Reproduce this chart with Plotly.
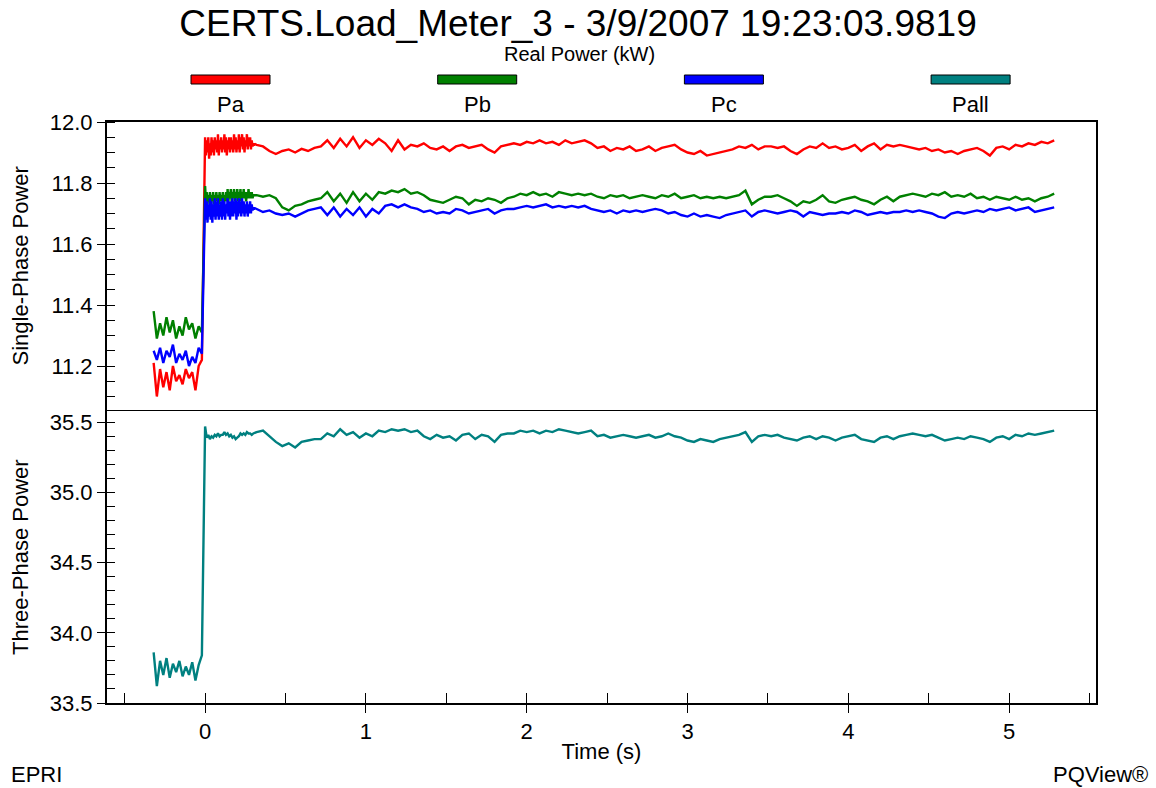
import numpy as np
import plotly.graph_objects as go

# ---------------- data ----------------
T_PRE = np.linspace(-0.32, -0.02, 16)
T_STEP = [0.0]
T_RIPPLE = np.linspace(0.005, 0.30, 60)      # single-phase dense ripple section
T_RIPPLE_3 = np.linspace(0.01, 0.30, 30)     # three-phase section
T_MAIN = np.linspace(0.32, 5.28, 125)

pa_pre = [11.21, 11.10, 11.19, 11.13, 11.18, 11.12, 11.20, 11.15, 11.17, 11.14, 11.19, 11.16, 11.18, 11.12, 11.20, 11.22]
pb_pre = [11.38, 11.29, 11.34, 11.30, 11.36, 11.31, 11.35, 11.29, 11.33, 11.30, 11.36, 11.32, 11.34, 11.29, 11.33, 11.31]
pc_pre = [11.25, 11.22, 11.26, 11.21, 11.25, 11.23, 11.27, 11.21, 11.24, 11.22, 11.25, 11.20, 11.23, 11.21, 11.26, 11.24]
pall_pre = [33.86, 33.62, 33.80, 33.70, 33.82, 33.68, 33.78, 33.72, 33.80, 33.69, 33.76, 33.70, 33.79, 33.66, 33.77, 33.84]

pa_step = [11.95]
pb_step = [11.79]
pc_step = [11.75]
pall_step = [35.47]

pa_ripple = [11.89, 11.94, 11.90, 11.95, 11.88, 11.93, 11.89, 11.95, 11.90, 11.94,
             11.89, 11.95, 11.91, 11.94, 11.90, 11.96, 11.89, 11.94, 11.91, 11.95,
             11.90, 11.94, 11.91, 11.96, 11.90, 11.95, 11.89, 11.94, 11.91, 11.95,
             11.90, 11.95, 11.91, 11.94, 11.90, 11.96, 11.91, 11.95, 11.90, 11.94,
             11.91, 11.96, 11.90, 11.95, 11.92, 11.96, 11.91, 11.95, 11.90, 11.94,
             11.92, 11.96, 11.91, 11.95, 11.92, 11.95, 11.91, 11.94, 11.92, 11.93]
pb_ripple = [11.74, 11.77, 11.73, 11.76, 11.74, 11.77, 11.73, 11.76, 11.74, 11.77,
             11.73, 11.76, 11.74, 11.77, 11.74, 11.76, 11.73, 11.77, 11.74, 11.76,
             11.74, 11.77, 11.73, 11.76, 11.74, 11.77, 11.74, 11.78, 11.74, 11.77,
             11.75, 11.78, 11.74, 11.77, 11.75, 11.78, 11.74, 11.77, 11.75, 11.78,
             11.74, 11.77, 11.75, 11.78, 11.74, 11.77, 11.75, 11.78, 11.75, 11.77,
             11.74, 11.77, 11.75, 11.78, 11.75, 11.77, 11.75, 11.77, 11.75, 11.76]
pc_ripple = [11.68, 11.74, 11.67, 11.73, 11.69, 11.75, 11.68, 11.74, 11.67, 11.73,
             11.69, 11.75, 11.68, 11.74, 11.69, 11.75, 11.68, 11.73, 11.69, 11.74,
             11.68, 11.75, 11.69, 11.74, 11.68, 11.73, 11.70, 11.75, 11.69, 11.74,
             11.68, 11.74, 11.69, 11.75, 11.69, 11.74, 11.70, 11.75, 11.68, 11.74,
             11.69, 11.75, 11.70, 11.74, 11.69, 11.75, 11.70, 11.74, 11.69, 11.73,
             11.70, 11.74, 11.69, 11.73, 11.70, 11.74, 11.70, 11.73, 11.71, 11.72]
pall_ripple = [35.39, 35.41, 35.38, 35.40, 35.39, 35.41, 35.40, 35.42, 35.40, 35.41,
               35.41, 35.43, 35.41, 35.42, 35.40, 35.41, 35.39, 35.40, 35.38, 35.39,
               35.40, 35.42, 35.41, 35.42, 35.41, 35.43, 35.42, 35.42, 35.41, 35.42]

pa_main = [
    11.925, 11.92, 11.905, 11.895, 11.905, 11.91, 11.90, 11.912, 11.905, 11.915,
    11.92, 11.94, 11.915, 11.945, 11.92, 11.95, 11.915, 11.94, 11.925, 11.945,
    11.93, 11.905, 11.94, 11.91, 11.925, 11.92, 11.93, 11.915, 11.91, 11.92,
    11.905, 11.92, 11.925, 11.915, 11.92, 11.925, 11.91, 11.90, 11.92, 11.925,
    11.93, 11.925, 11.935, 11.93, 11.94, 11.93, 11.935, 11.925, 11.94, 11.93,
    11.935, 11.94, 11.93, 11.915, 11.92, 11.905, 11.915, 11.91, 11.92, 11.905,
    11.91, 11.92, 11.905, 11.915, 11.92, 11.925, 11.91, 11.90, 11.895, 11.905,
    11.89, 11.895, 11.90, 11.905, 11.91, 11.92, 11.915, 11.925, 11.91, 11.92,
    11.92, 11.915, 11.92, 11.905, 11.895, 11.91, 11.92, 11.915, 11.93, 11.915,
    11.92, 11.91, 11.915, 11.925, 11.905, 11.92, 11.93, 11.91, 11.925, 11.92,
    11.925, 11.92, 11.915, 11.91, 11.915, 11.905, 11.91, 11.90, 11.905, 11.895,
    11.905, 11.91, 11.915, 11.905, 11.89, 11.915, 11.92, 11.91, 11.925, 11.92,
    11.93, 11.925, 11.935, 11.93, 11.94]
pb_main = [
    11.76, 11.755, 11.76, 11.75, 11.72, 11.71, 11.725, 11.73, 11.74, 11.745,
    11.75, 11.77, 11.74, 11.765, 11.735, 11.77, 11.74, 11.765, 11.745, 11.77,
    11.765, 11.775, 11.77, 11.78, 11.765, 11.77, 11.76, 11.745, 11.74, 11.735,
    11.745, 11.755, 11.75, 11.73, 11.745, 11.74, 11.75, 11.745, 11.735, 11.75,
    11.755, 11.765, 11.76, 11.77, 11.76, 11.765, 11.755, 11.77, 11.765, 11.76,
    11.765, 11.76, 11.765, 11.755, 11.75, 11.76, 11.755, 11.76, 11.75, 11.755,
    11.76, 11.755, 11.75, 11.76, 11.755, 11.765, 11.75, 11.755, 11.76, 11.75,
    11.755, 11.75, 11.755, 11.75, 11.755, 11.76, 11.775, 11.73, 11.745, 11.755,
    11.755, 11.76, 11.75, 11.74, 11.725, 11.74, 11.735, 11.745, 11.76, 11.74,
    11.735, 11.745, 11.75, 11.755, 11.745, 11.74, 11.73, 11.745, 11.755, 11.74,
    11.755, 11.76, 11.765, 11.76, 11.755, 11.765, 11.76, 11.77, 11.755, 11.76,
    11.755, 11.765, 11.75, 11.755, 11.745, 11.755, 11.75, 11.745, 11.755, 11.745,
    11.75, 11.74, 11.75, 11.755, 11.765]
pc_main = [
    11.715, 11.705, 11.71, 11.70, 11.695, 11.70, 11.69, 11.70, 11.71, 11.715,
    11.72, 11.695, 11.72, 11.69, 11.715, 11.695, 11.72, 11.69, 11.715, 11.70,
    11.725, 11.73, 11.72, 11.73, 11.72, 11.715, 11.705, 11.71, 11.70, 11.705,
    11.70, 11.715, 11.71, 11.70, 11.705, 11.71, 11.715, 11.70, 11.71, 11.715,
    11.715, 11.72, 11.725, 11.72, 11.725, 11.73, 11.72, 11.725, 11.72, 11.725,
    11.72, 11.725, 11.715, 11.71, 11.705, 11.71, 11.70, 11.71, 11.705, 11.71,
    11.705, 11.71, 11.715, 11.71, 11.70, 11.705, 11.695, 11.69, 11.70, 11.69,
    11.695, 11.69, 11.685, 11.695, 11.70, 11.705, 11.71, 11.69, 11.705, 11.71,
    11.705, 11.70, 11.705, 11.71, 11.705, 11.69, 11.705, 11.70, 11.695, 11.70,
    11.70, 11.705, 11.70, 11.71, 11.705, 11.695, 11.70, 11.705, 11.70, 11.705,
    11.705, 11.71, 11.705, 11.71, 11.705, 11.70, 11.69, 11.685, 11.70, 11.705,
    11.70, 11.705, 11.71, 11.705, 11.715, 11.71, 11.715, 11.72, 11.71, 11.715,
    11.72, 11.705, 11.71, 11.715, 11.72]
pall_main = [
    35.43, 35.44, 35.40, 35.36, 35.33, 35.35, 35.32, 35.36, 35.37, 35.38,
    35.38, 35.42, 35.40, 35.45, 35.41, 35.43, 35.39, 35.42, 35.40, 35.44,
    35.43, 35.45, 35.44, 35.45, 35.43, 35.44, 35.40, 35.38, 35.41, 35.39,
    35.40, 35.37, 35.41, 35.42, 35.38, 35.41, 35.40, 35.36, 35.41, 35.42,
    35.42, 35.44, 35.43, 35.44, 35.42, 35.44, 35.43, 35.45, 35.44, 35.43,
    35.42, 35.43, 35.44, 35.40, 35.41, 35.39, 35.40, 35.41, 35.40, 35.39,
    35.40, 35.41, 35.39, 35.40, 35.42, 35.40, 35.39, 35.37, 35.36, 35.38,
    35.37, 35.36, 35.38, 35.39, 35.40, 35.41, 35.43, 35.36, 35.40, 35.41,
    35.40, 35.41, 35.39, 35.38, 35.37, 35.39, 35.40, 35.38, 35.40, 35.39,
    35.37, 35.39, 35.40, 35.41, 35.38, 35.37, 35.36, 35.39, 35.40, 35.38,
    35.40, 35.41, 35.42, 35.41, 35.40, 35.41, 35.39, 35.37, 35.38, 35.39,
    35.38, 35.40, 35.39, 35.38, 35.36, 35.39, 35.40, 35.38, 35.41, 35.40,
    35.42, 35.41, 35.42, 35.43, 35.44]

time_1ph = np.concatenate([T_PRE, T_STEP, T_RIPPLE, T_MAIN])
time_3ph = np.concatenate([T_PRE, T_STEP, T_RIPPLE_3, T_MAIN])
Pa = pa_pre + pa_step + pa_ripple + pa_main
Pb = pb_pre + pb_step + pb_ripple + pb_main
Pc = pc_pre + pc_step + pc_ripple + pc_main
Pall = pall_pre + pall_step + pall_ripple + pall_main

series_names = ["Pa", "Pb", "Pc", "Pall"]
series_colors = ["#FF0000", "#008000", "#0000FF", "#008080"]

TITLE = "CERTS.Load_Meter_3 - 3/9/2007 19:23:03.9819"
SUBTITLE = "Real Power (kW)"

# ---------------- figure ----------------
W, H = 1156, 788
ML, MR, MT, MB = 107, 60, 122, 85
PW, PH = W - ML - MR, H - MT - MB
SPLIT = (703 - 411) / PH  # bottom panel fraction
X_RANGE = [-0.61, 5.54]


def px(xp):
    return (xp - ML) / PW


def py(yp):
    return (H - MB - yp) / PH


FONT = "Liberation Sans, Arial, sans-serif"
LW = 2.4

fig = go.Figure()
for name, vals, col in zip(series_names[:3], [Pa, Pb, Pc], series_colors[:3]):
    fig.add_trace(go.Scatter(x=time_1ph, y=vals, mode="lines", name=name,
                             line=dict(color=col, width=LW), xaxis="x", yaxis="y",
                             showlegend=False))
fig.add_trace(go.Scatter(x=time_3ph, y=Pall, mode="lines", name="Pall",
                         line=dict(color=series_colors[3], width=LW), xaxis="x", yaxis="y2",
                         showlegend=False))
# empty helper traces so the frame-only axes are drawn
fig.add_trace(go.Scatter(x=[None], y=[None], xaxis="x2", yaxis="y", showlegend=False, hoverinfo="skip"))
fig.add_trace(go.Scatter(x=[None], y=[None], xaxis="x3", yaxis="y2", showlegend=False, hoverinfo="skip"))

axis_common = dict(showline=True, linecolor="black", showgrid=False,
                   zeroline=False, tickcolor="black", tickwidth=1,
                   tickfont=dict(family=FONT, size=22, color="black"))
frame_axis = dict(overlaying="x", range=X_RANGE, side="top", showline=True,
                  linecolor="black", ticks="", showticklabels=False,
                  showgrid=False, zeroline=False)

fig.update_layout(
    width=W, height=H,
    margin=dict(l=ML, r=MR, t=MT, b=MB, autoexpand=False),
    paper_bgcolor="white", plot_bgcolor="white",
    font=dict(family=FONT, size=22, color="black"),
    title=dict(text=TITLE, x=0.5, xref="container", xanchor="center",
               y=1 - 23 / H, yanchor="middle", yref="container",
               font=dict(family=FONT, size=37, color="black")),
    xaxis=dict(anchor="y2", domain=[0, 1], range=X_RANGE, tick0=0, dtick=1,
               ticks="outside", ticklen=8, linewidth=2, mirror=False,
               minor=dict(dtick=0.5, ticks="inside", ticklen=10, tickcolor="black"),
               title=dict(text="Time (s)", font=dict(family=FONT, size=22), standoff=0),
               **axis_common),
    xaxis2=dict(anchor="y", linewidth=2, **frame_axis),
    xaxis3=dict(anchor="y2", linewidth=1.2, **frame_axis),
    yaxis=dict(domain=[SPLIT, 1], range=[11.0525, 12.0], tick0=12.0, dtick=0.2,
               tickformat=".1f", ticks="outside", ticklen=8, mirror=True, linewidth=2,
               minor=dict(dtick=0.05, ticks="inside", ticklen=8, tickcolor="black"),
               **axis_common),
    yaxis2=dict(domain=[0, SPLIT], range=[33.5, 35.58], tick0=33.5, dtick=0.5,
                tickformat=".1f", ticks="outside", ticklen=8, mirror=True, linewidth=2,
                minor=dict(dtick=0.1, ticks="inside", ticklen=8, tickcolor="black"),
                **axis_common),
)

annotations = [
    dict(text=SUBTITLE, xref="paper", yref="paper", x=px(579), y=py(54),
         xanchor="center", yanchor="middle", showarrow=False,
         font=dict(family=FONT, size=20)),
    dict(text="Single-Phase Power", xref="paper", yref="paper", x=px(20), y=py(266.5),
         textangle=-90, xanchor="center", yanchor="middle", showarrow=False,
         font=dict(family=FONT, size=22)),
    dict(text="Three-Phase Power", xref="paper", yref="paper", x=px(20), y=py(557),
         textangle=-90, xanchor="center", yanchor="middle", showarrow=False,
         font=dict(family=FONT, size=22)),
    dict(text="EPRI", xref="paper", yref="paper", x=px(9), y=py(775),
         xanchor="left", yanchor="middle", showarrow=False,
         font=dict(family=FONT, size=22)),
    dict(text="PQView®", xref="paper", yref="paper", x=px(1150), y=py(775),
         xanchor="right", yanchor="middle", showarrow=False,
         font=dict(family=FONT, size=22)),
]
shapes = []
for i, (name, col) in enumerate(zip(series_names, series_colors)):
    cx = 230.5 + 246.7 * i
    shapes.append(dict(type="rect", xref="paper", yref="paper",
                       x0=px(cx - 39.5), x1=px(cx + 39.5), y0=py(84), y1=py(75),
                       fillcolor=col, line=dict(color="black", width=1)))
    annotations.append(dict(text=name, xref="paper", yref="paper", x=px(cx), y=py(104),
                            xanchor="center", yanchor="middle", showarrow=False,
                            font=dict(family=FONT, size=22)))

fig.update_layout(annotations=annotations, shapes=shapes)
fig.write_html("out.html")
